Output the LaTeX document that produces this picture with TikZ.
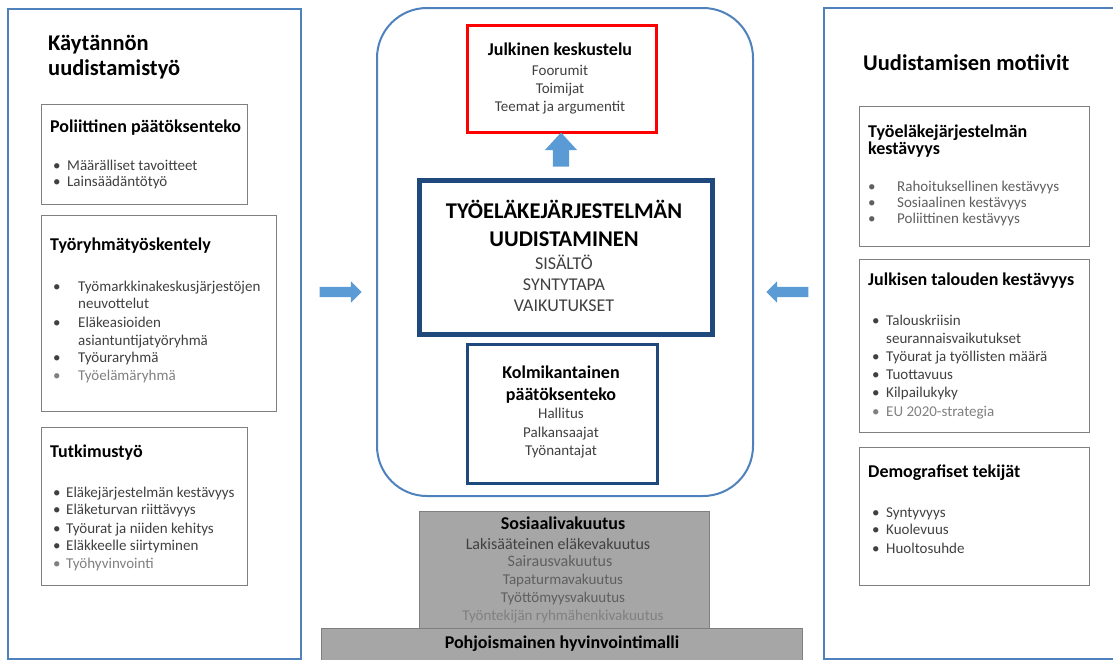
\documentclass[tikz,border=0pt]{standalone}
\usepackage{fontspec}
\setmainfont{Carlito}
\usetikzlibrary{positioning, shapes.arrows}
\definecolor{panelblue}{RGB}{79,129,189}
\definecolor{arrowblue}{RGB}{91,155,213}
\definecolor{deepblue}{RGB}{31,73,125}
\definecolor{boxgray}{RGB}{127,127,127}
\definecolor{itemgray}{RGB}{64,64,64}
\definecolor{midgray}{RGB}{95,95,95}
\definecolor{palegray}{RGB}{128,128,128}
\definecolor{basefill}{RGB}{166,166,166}
\newcommand{\blt}[1]{\makebox[#1][l]{\textbullet}}
\tikzset{
panel/.style={draw=panelblue, line width=2pt, anchor=north west, inner sep=0pt}, % the two side panels
subbox/.style={draw=boxgray, line width=1.2pt, anchor=north west, inner sep=0pt}, % boxes inside the panels
bigtitle/.style={anchor=base west, inner sep=0pt, font=\bfseries\fontsize{22.5}{26}\selectfont},
title/.style={anchor=base west, inner sep=0pt, font=\bfseries\fontsize{18}{20}\selectfont},
item/.style={anchor=base west, inner sep=0pt, text=itemgray, font=\fontsize{15}{17}\selectfont},
ctitle/.style={anchor=base, inner sep=0pt, font=\bfseries\fontsize{18}{20}\selectfont},
citem/.style={anchor=base, inner sep=0pt, text=itemgray, font=\fontsize{15}{17}\selectfont},
blockarrow/.style={single arrow, fill=arrowblue, draw=none, inner sep=5pt, minimum width=21pt,
  minimum height=42pt, single arrow head extend=5.5pt}, % the fat blue arrows
}

\begin{document}
\begin{tikzpicture}[x=1pt, y=-1pt]
\useasboundingbox (0,0) rectangle (1113,659);

% left panel
\node[panel, minimum width=293pt, minimum height=650pt] (left) at (7,8) {};
\node[bigtitle] (lt1) at (48,50) {Käytännön};
\node[bigtitle] (lt2) at (48,75) {uudistamistyö};

\node[subbox, minimum width=206pt, minimum height=100pt] (lbox1) at (41,104) {};
\node[title] (l1t) at (50,132) {Poliittinen päätöksenteko};
\node[item] (l1a) at (53,170) {\blt{14pt}Määrälliset tavoitteet};
\node[item] (l1b) at (53,186) {\blt{14pt}Lainsäädäntötyö};

\node[subbox, minimum width=235pt, minimum height=196pt] (lbox2) at (41,215) {};
\node[title] (l2t) at (50,250) {Työryhmätyöskentely};
\node[item] (l2a) at (53,291) {\blt{25pt}Työmarkkinakeskusjärjestöjen};
\node[item] (l2b) at (78,308) {neuvottelut};
\node[item] (l2c) at (53,327) {\blt{25pt}Eläkeasioiden};
\node[item] (l2d) at (78,345) {asiantuntijatyöryhmä};
\node[item] (l2e) at (53,362) {\blt{25pt}Työuraryhmä};
\node[item, text=palegray] (l2f) at (53,380) {\blt{25pt}Työelämäryhmä};

\node[subbox, minimum width=206pt, minimum height=158pt] (lbox3) at (41,427) {};
\node[title] (l3t) at (50,457) {Tutkimustyö};
\node[item] (l3a) at (53,497) {\blt{13pt}Eläkejärjestelmän kestävyys};
\node[item] (l3b) at (53,514) {\blt{13pt}Eläketurvan riittävyys};
\node[item] (l3c) at (53,533) {\blt{13pt}Työurat ja niiden kehitys};
\node[item] (l3d) at (53,550) {\blt{13pt}Eläkkeelle siirtyminen};
\node[item, text=palegray] (l3e) at (53,568) {\blt{13pt}Työhyvinvointi};

% centre
\node[draw=panelblue, line width=2pt, rounded corners=50pt, anchor=north west, inner sep=0pt,
  minimum width=376pt, minimum height=488pt] (core) at (376,7) {};

\node[draw=red, line width=3pt, anchor=north west, minimum width=189pt, minimum height=107pt] (debate) at (466,24) {};
\node[ctitle] (d0) at (560,55) {Julkinen keskustelu};
\node[citem] (d1) at (560,75) {Foorumit};
\node[citem] (d2) at (560,93) {Toimijat};
\node[citem] (d3) at (560,111) {Teemat ja argumentit};

\node[blockarrow, rotate=90, inner sep=8pt, minimum width=32pt, minimum height=34pt,
  single arrow head extend=8pt, single arrow tip angle=85] (up) at (561,154) {};

\node[draw=deepblue, line width=5pt, anchor=north west, minimum width=293pt, minimum height=154pt] (reform) at (417,178) {};
\node[anchor=base, inner sep=0pt, font=\bfseries\fontsize{22.5}{26}\selectfont] (r0) at (564,218) {TYÖELÄKEJÄRJESTELMÄN};
\node[anchor=base, inner sep=0pt, font=\bfseries\fontsize{22.5}{26}\selectfont] (r1) at (564,246) {UUDISTAMINEN};
\node[anchor=base, inner sep=0pt, text=itemgray, font=\fontsize{18}{21}\selectfont] (r2) at (564,269) {SISÄLTÖ};
\node[anchor=base, inner sep=0pt, text=itemgray, font=\fontsize{18}{21}\selectfont] (r3) at (564,290) {SYNTYTAPA};
\node[anchor=base, inner sep=0pt, text=itemgray, font=\fontsize{18}{21}\selectfont] (r4) at (564,311) {VAIKUTUKSET};

\node[draw=deepblue, line width=3pt, anchor=north west, minimum width=190pt, minimum height=139pt] (tripartite) at (466,343) {};
\node[ctitle] (k0) at (561,378) {Kolmikantainen};
\node[ctitle] (k1) at (561,400) {päätöksenteko};
\node[citem] (k2) at (561,418) {Hallitus};
\node[citem] (k3) at (561,437) {Palkansaajat};
\node[citem] (k4) at (561,455) {Työnantajat};

% foundation
\node[draw=boxgray, fill=basefill, line width=1pt, anchor=north west, minimum width=290pt, minimum height=117pt] (social) at (419,511) {};
\node[ctitle] (s0) at (563,529) {Sosiaalivakuutus};
\node[citem, font=\fontsize{16}{18}\selectfont] (s1) at (558,549) {Lakisääteinen eläkevakuutus};
\node[citem, text=midgray, font=\fontsize{16}{18}\selectfont] (s2) at (560,566) {Sairausvakuutus};
\node[citem, text=midgray] (s3) at (563,584) {Tapaturmavakuutus};
\node[citem, text=midgray] (s4) at (563,602) {Työttömyysvakuutus};
\node[citem, text=palegray] (s5) at (563,620) {Työntekijän ryhmähenkivakuutus};

\node[draw=boxgray, fill=basefill, line width=1pt, anchor=north west, minimum width=481pt, minimum height=40pt] (nordic) at (321,628) {};
\node[ctitle] (n0) at (562,648) {Pohjoismainen hyvinvointimalli};

% right panel
\node[panel, minimum width=300pt, minimum height=651pt] (right) at (823,7) {};
\node[bigtitle] (rt) at (863,70) {Uudistamisen motiivit};

\node[subbox, minimum width=230pt, minimum height=140pt] (rbox1) at (859,106) {};
\node[title] (m1t) at (868,137) {Työeläkejärjestelmän};
\node[title] (m1u) at (868,154) {kestävyys};
\node[item, text=midgray] (m1a) at (868,191) {\blt{29pt}Rahoituksellinen kestävyys};
\node[item, text=midgray] (m1b) at (868,207) {\blt{29pt}Sosiaalinen kestävyys};
\node[item, text=midgray] (m1c) at (868,223) {\blt{29pt}Poliittinen kestävyys};

\node[subbox, minimum width=230pt, minimum height=173pt] (rbox2) at (859,259) {};
\node[title] (m2t) at (868,285) {Julkisen talouden kestävyys};
\node[item] (m2a) at (872,325) {\blt{14pt}Talouskriisin};
\node[item] (m2b) at (886,343) {seurannaisvaikutukset};
\node[item] (m2c) at (872,361) {\blt{14pt}Työurat ja työllisten määrä};
\node[item] (m2d) at (872,379) {\blt{14pt}Tuottavuus};
\node[item] (m2e) at (872,397) {\blt{14pt}Kilpailukyky};
\node[item, text=palegray] (m2f) at (872,416) {\blt{14pt}EU 2020-strategia};

\node[subbox, minimum width=230pt, minimum height=138pt] (rbox3) at (859,447) {};
\node[title] (m3t) at (868,477) {Demografiset tekijät};
\node[item] (m3a) at (872,517) {\blt{14pt}Syntyvyys};
\node[item] (m3b) at (872,534) {\blt{14pt}Kuolevuus};
\node[item] (m3c) at (872,553) {\blt{14pt}Huoltosuhde};

% arrows into the centre
\node[blockarrow] (inleft) at (338,292) {};
\node[blockarrow, rotate=180] (inright) at (790,292) {};
\end{tikzpicture}
\end{document}
